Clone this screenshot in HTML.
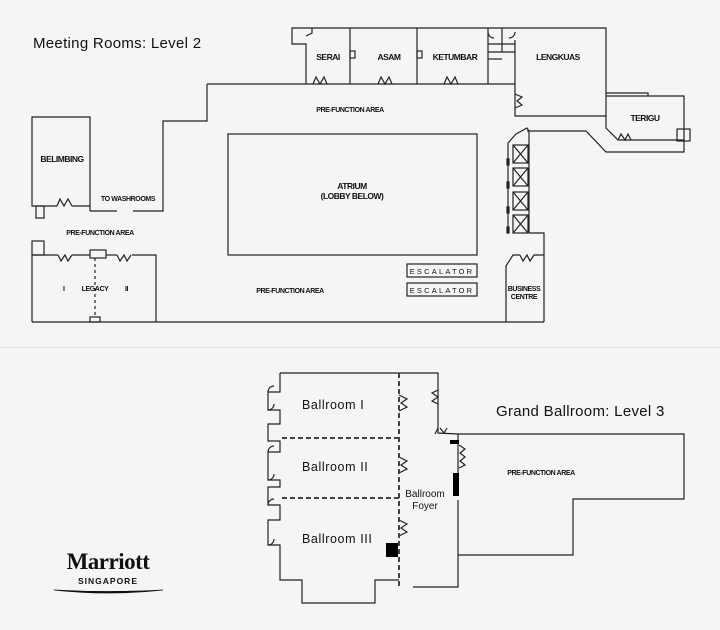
<!DOCTYPE html>
<html><head><meta charset="utf-8"><style>
html,body{margin:0;padding:0;background:#f5f5f5;}
svg{display:block;}
text{font-family:"Liberation Sans",sans-serif;fill:#111;}
.s{font-size:7px;font-weight:bold;letter-spacing:-0.4px;}
.m{font-size:8.5px;font-weight:bold;letter-spacing:-0.5px;}
.b{font-size:12.5px;letter-spacing:0.6px;}
</style></head><body>
<svg width="720" height="630" viewBox="0 0 720 630" xmlns="http://www.w3.org/2000/svg">
<rect width="720" height="630" fill="#f5f5f5"/>
<line x1="0" y1="347.5" x2="720" y2="347.5" stroke="#dcdcdc" stroke-width="1"/>
<g fill="none" stroke="#222" stroke-width="1.2">
<!-- level 2 main outline -->
<polyline points="207,84 515,84"/>
<polyline points="207,84 207,121 163,121 163,211 133,211"/>
<polyline points="117,211 90,211"/>
<polyline points="32,322 544,322"/>
<!-- Belimbing -->
<polyline points="90,211 90,117 32,117 32,206 57,206"/>
<polyline points="72,206 90,206"/>
<path d="M57,206 l3,-7 l4,7 l4,-7 l4,7"/>
<rect x="36" y="206" width="8" height="12"/>
<!-- Legacy -->
<polyline points="32,322 32,255 58,255"/>
<polyline points="72,255 90,255"/><polyline points="106,255 117,255"/><polyline points="132,255 156,255 156,322"/>
<path d="M58,255 l3,6 l4,-6 l3,6 l4,-6"/><path d="M117,255 l3,6 l4,-6 l3,6 l4,-6"/>
<rect x="32" y="241" width="12" height="14"/>
<rect x="90" y="250" width="16" height="8"/>
<rect x="90" y="317" width="10" height="5"/>
<line x1="95" y1="258" x2="95" y2="317" stroke-dasharray="3,3"/>
<!-- atrium -->
<rect x="228" y="134" width="249" height="121"/>
<!-- top rooms -->
<polyline points="306,84 306,44 292,44 292,28 606,28 606,116 515,116 515,40"/>
<path d="M306,36 l6,-3 l0,-5"/>
<line x1="350" y1="28" x2="350" y2="84"/><line x1="417" y1="28" x2="417" y2="84"/><line x1="488" y1="28" x2="488" y2="84"/>
<line x1="488" y1="44" x2="515" y2="44"/><line x1="488" y1="52" x2="515" y2="52"/>
<line x1="488" y1="59" x2="502" y2="59"/><line x1="502" y1="28" x2="502" y2="52"/>
<path d="M488,32 a6,6 0 0 0 6,6 M515,32 a6,6 0 0 1 -6,6"/>
<rect x="350" y="51" width="5" height="7"/><rect x="417" y="51" width="5" height="7"/>
<path d="M313,84 l3,-7 l4,7 l4,-7 l3,7"/><path d="M378,84 l3,-7 l4,7 l4,-7 l3,7"/><path d="M444,84 l3,-7 l4,7 l4,-7 l3,7"/>
<path d="M515,94 l7,3 l-5,4 l5,4 l-7,3"/>
<!-- terigu -->
<polyline points="606,93 648,93 648,96"/>
<polyline points="606,96 684,96 684,152 606,152 586,131 527,131"/>
<polyline points="606,116 606,128 618,140 684,140"/>
<path d="M618,140 l3,-6 l4,6 l3,-6 l3,6"/>
<rect x="677" y="129" width="13" height="12"/>
<!-- elevators -->
<polyline points="508,233 508,143 516,134 527,128 529,131 529,233"/>
<rect x="513" y="145" width="15" height="18"/><path d="M513,145 l15,18 M528,145 l-15,18"/>
<rect x="513" y="168" width="15" height="18"/><path d="M513,168 l15,18 M528,168 l-15,18"/>
<rect x="513" y="192" width="15" height="18"/><path d="M513,192 l15,18 M528,192 l-15,18"/>
<rect x="513" y="215" width="15" height="18"/><path d="M513,215 l15,18 M528,215 l-15,18"/>
<rect x="507" y="159" width="2" height="6"/><rect x="507" y="182" width="2" height="6"/><rect x="507" y="207" width="2" height="6"/><rect x="507" y="227" width="2" height="6"/>
<!-- business centre -->
<polyline points="529,233 544,233 544,322"/>
<polyline points="506,322 506,266 513,255 520,255"/>
<path d="M520,255 l3,6 l4,-6 l3,6 l4,-6 l10,0"/>
<!-- escalators -->
<rect x="407" y="264" width="70" height="13"/><rect x="407" y="283" width="70" height="13"/>
<!-- level 3 -->
<polyline points="280,373 438,373 438,433 458,434 684,434 684,499 573,499 573,555 458,555"/>
<polyline points="458,434 458,495"/><polyline points="458,500 458,587 413,587"/>
<polyline points="280,373 280,392 268,392 268,410 280,410 280,424 268,424 268,441 280,441 280,452 268,452 268,480 280,480 280,487 268,487 268,505 280,505 280,520 268,520 268,545 280,545 280,580 302,580 302,603 375,603 375,580 399,580"/>
<path d="M268,392 a6,6 0 0 1 6,-6 M268,410 a6,6 0 0 0 6,-6 M268,452 a6,6 0 0 1 6,-6 M268,480 a6,6 0 0 0 6,-6 M268,505 a6,6 0 0 1 6,-6 M268,545 a6,6 0 0 0 6,-6"/>
<path d="M399,395 l8,4 l-6,4 l6,4 l-8,4"/><path d="M399,457 l8,4 l-6,4 l6,4 l-8,4"/><path d="M399,520 l8,4 l-6,4 l6,4 l-8,4"/>
<path d="M438,390 l-6,3 l6,4 l-6,4 l6,3"/><path d="M438,428 l-3,6 M440,428 l4,5 l3,-5"/>
<path d="M459,445 l6,4 l-5,4 l5,4 l-5,4 l5,4 l-6,3"/>
<g stroke="#444" stroke-width="2" stroke-dasharray="5,3">
<line x1="399" y1="373" x2="399" y2="587"/>
<line x1="282" y1="438" x2="399" y2="438"/><line x1="282" y1="498" x2="399" y2="498"/>
</g>
</g>
<rect x="386" y="543" width="12" height="14" fill="#000"/>
<rect x="453" y="473" width="6" height="23" fill="#000"/>
<rect x="450" y="440" width="9" height="4" fill="#000"/>
<!-- text level 2 -->
<text x="33" y="48" style="font-size:15px;letter-spacing:0.3px">Meeting Rooms: Level 2</text>
<text class="m" x="62" y="162" text-anchor="middle">BELIMBING</text>
<text class="s" x="128" y="201" text-anchor="middle">TO WASHROOMS</text>
<text class="s" x="100" y="235" text-anchor="middle">PRE-FUNCTION AREA</text>
<text class="s" x="290" y="293" text-anchor="middle">PRE-FUNCTION AREA</text>
<text class="s" x="350" y="112" text-anchor="middle">PRE-FUNCTION AREA</text>
<text class="s" x="63" y="291">I</text><text class="s" x="95" y="291" text-anchor="middle">LEGACY</text><text class="s" x="125" y="291">II</text>
<text class="m" x="352" y="189" text-anchor="middle">ATRIUM</text>
<text class="m" x="352" y="199" text-anchor="middle">(LOBBY BELOW)</text>
<text class="m" x="328" y="60" text-anchor="middle">SERAI</text>
<text class="m" x="389" y="60" text-anchor="middle">ASAM</text>
<text class="m" x="455" y="60" text-anchor="middle">KETUMBAR</text>
<text class="m" x="558" y="60" text-anchor="middle">LENGKUAS</text>
<text class="m" x="645" y="121" text-anchor="middle">TERIGU</text>
<text class="s" x="524" y="291" text-anchor="middle">BUSINESS</text>
<text class="s" x="524" y="299" text-anchor="middle">CENTRE</text>
<text x="442" y="274" text-anchor="middle" style="font-size:7.5px;letter-spacing:2.2px">ESCALATOR</text>
<text x="442" y="293" text-anchor="middle" style="font-size:7.5px;letter-spacing:2.2px">ESCALATOR</text>
<!-- text level 3 -->
<text x="496" y="416" style="font-size:15px;letter-spacing:0.3px">Grand Ballroom: Level 3</text>
<text class="b" x="302" y="409">Ballroom I</text>
<text class="b" x="302" y="471">Ballroom II</text>
<text class="b" x="302" y="543">Ballroom III</text>
<text x="425" y="497" text-anchor="middle" style="font-size:10px">Ballroom</text>
<text x="425" y="509" text-anchor="middle" style="font-size:10px">Foyer</text>
<text class="s" x="541" y="475" text-anchor="middle">PRE-FUNCTION AREA</text>
<!-- logo -->
<text x="108" y="569" text-anchor="middle" style="font-family:'Liberation Serif',serif;font-size:23px;font-weight:bold;letter-spacing:-0.5px">Marriott</text>
<text x="108" y="584" text-anchor="middle" style="font-size:8.5px;font-weight:bold;letter-spacing:1px">SINGAPORE</text>
<path d="M54,590 Q108,596 163,590 Q108,593 54,590 Z" fill="#111" stroke="#111" stroke-width="0.8"/>
</svg>
</body></html>
